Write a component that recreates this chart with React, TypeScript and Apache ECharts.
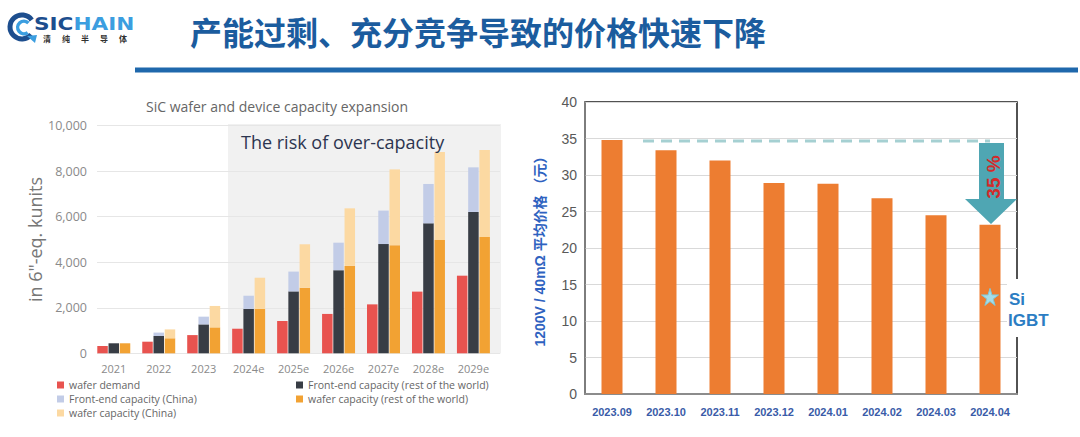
import React, { useEffect, useRef } from "react";
import * as echarts from "echarts";

// ---- Left chart data (in 6"-eq. kunits) ----
const years = ["2021", "2022", "2023", "2024e", "2025e", "2026e", "2027e", "2028e", "2029e"];
const waferDemand = [320, 510, 800, 1080, 1420, 1730, 2150, 2710, 3410];
const frontEndRow = [440, 760, 1270, 1950, 2720, 3650, 4800, 5710, 6210];
const frontEndChina = [0, 150, 340, 580, 870, 1210, 1470, 1730, 1960];
const waferCapRow = [440, 660, 1140, 1950, 2880, 3840, 4750, 4980, 5110];
const waferCapChina = [0, 390, 940, 1370, 1910, 2530, 3330, 3860, 3820];
const leftTicks = { min: 0, max: 10000, interval: 2000 };

// ---- Right chart data (元) ----
const months = ["2023.09", "2023.10", "2023.11", "2023.12", "2024.01", "2024.02", "2024.03", "2024.04"];
const avgPrice = [34.8, 33.4, 32.0, 28.9, 28.8, 26.8, 24.5, 23.2];
const siIgbtPoint = [[7, 13.3]];
const rightTicks = { min: 0, max: 40, interval: 5 };

const SERIES_NAMES = {
  demand: "wafer demand",
  feRow: "Front-end capacity (rest of the world)",
  feChina: "Front-end capacity (China)",
  wRow: "wafer capacity (rest of the world)",
  wChina: "wafer capacity (China)",
};

const LF = "'Open Sans', 'Noto Sans', sans-serif";
const RF = "'Liberation Sans Narrow', 'Liberation Sans', 'Noto Sans CJK SC', sans-serif";

const STAR = "path://M50,0 L61,35 L98,35 L68,57 L79,91 L50,70 L21,91 L32,57 L2,35 L39,35 Z";

function txt(x: number, y: number, text: string, font: string, fill: string, align = "left", extra: any = {}) {
  return {
    type: "text",
    x,
    y,
    z: 100,
    ...extra,
    style: {
      text,
      font,
      fill,
      align,
      verticalAlign: "middle",
      textAlign: align,
      textVerticalAlign: "middle",
    },
  };
}

export default function App() {
  const ref = useRef<HTMLDivElement>(null);

  useEffect(() => {
    if (!ref.current) return;
    const chart = echarts.init(ref.current, undefined, { renderer: "svg" });

    const subChars = ["清", "纯", "半", "导", "体"];
    const legendText = { fontSize: 10.5, color: "#666666", fontFamily: LF, lineHeight: 13 };

    const option: any = {
      animation: false,
      backgroundColor: "#ffffff",
      grid: [
        // 0: left chart gridlines & y labels
        { left: 97, top: 125.7, width: 403, height: 227.6 },
        // 1: left chart bars
        { left: 91.3, top: 125.7, width: 404.6, height: 227.6 },
        // 2: right chart
        {
          left: 585,
          top: 102,
          width: 432,
          height: 292,
          show: true,
          borderColor: "#1a1a1a",
          borderWidth: 1.5,
          backgroundColor: "transparent",
        },
      ],
      xAxis: [
        { gridIndex: 0, type: "category", data: years, show: false },
        {
          gridIndex: 1,
          type: "category",
          data: years,
          axisLine: { show: false },
          axisTick: { show: false },
          axisLabel: { fontSize: 11, color: "#8a8a8a", fontFamily: LF, margin: 10 },
        },
        {
          gridIndex: 2,
          type: "category",
          data: months,
          axisLine: { show: true, lineStyle: { color: "#8c8c8c", width: 2 } },
          axisTick: { show: false },
          axisLabel: { fontSize: 11, fontWeight: "bold", color: "#3a5ba8", fontFamily: RF, margin: 12 },
        },
      ],
      yAxis: [
        {
          gridIndex: 0,
          type: "value",
          min: leftTicks.min,
          max: leftTicks.max,
          interval: leftTicks.interval,
          axisLine: { show: false },
          axisTick: { show: false },
          splitLine: { lineStyle: { color: "#e6e6e6", width: 1 } },
          axisLabel: {
            fontSize: 12.5,
            color: "#8a8a8a",
            fontFamily: LF,
            margin: 10,
            formatter: (v: number) => v.toLocaleString("en-US"),
          },
          name: 'in 6"-eq. kunits',
          nameLocation: "middle",
          nameGap: 50,
          nameRotate: 90,
          nameTextStyle: { fontSize: 18, color: "#777777", fontFamily: LF },
        },
        {
          gridIndex: 1,
          type: "value",
          min: leftTicks.min,
          max: leftTicks.max,
          interval: leftTicks.interval,
          show: false,
          splitLine: { show: false },
        },
        {
          gridIndex: 2,
          type: "value",
          min: rightTicks.min,
          max: rightTicks.max,
          interval: rightTicks.interval,
          axisLine: { show: true, lineStyle: { color: "#8c8c8c", width: 1.5 } },
          axisTick: { show: false },
          splitLine: { lineStyle: { color: "#d9d9d9", width: 1 } },
          axisLabel: { fontSize: 14, color: "#595959", fontFamily: RF, margin: 8 },
          name: "1200V / 40mΩ 平均价格 （元）",
          nameLocation: "middle",
          nameGap: 38,
          nameRotate: 90,
          nameTextStyle: {
            fontSize: 14,
            fontWeight: "bold",
            color: "#2e62c0",
            fontFamily: "'Liberation Sans', 'Noto Sans CJK SC', sans-serif",
          },
        },
      ],
      legend: [
        {
          left: 57,
          top: 378.5,
          orient: "vertical",
          padding: 0,
          itemGap: 1,
          itemWidth: 7,
          itemHeight: 7,
          icon: "rect",
          selectedMode: false,
          textStyle: legendText,
          data: [SERIES_NAMES.demand, SERIES_NAMES.feChina, SERIES_NAMES.wChina],
        },
        {
          left: 296,
          top: 378.5,
          orient: "vertical",
          padding: 0,
          itemGap: 1,
          itemWidth: 7,
          itemHeight: 7,
          icon: "rect",
          selectedMode: false,
          textStyle: legendText,
          data: [SERIES_NAMES.feRow, SERIES_NAMES.wRow],
        },
      ],
      series: [
        {
          name: SERIES_NAMES.demand,
          type: "bar",
          xAxisIndex: 1,
          yAxisIndex: 1,
          barWidth: 10.5,
          barGap: "7%",
          itemStyle: { color: "#e8534f" },
          data: waferDemand,
        },
        {
          name: SERIES_NAMES.feRow,
          type: "bar",
          stack: "fe",
          xAxisIndex: 1,
          yAxisIndex: 1,
          barWidth: 10.5,
          barGap: "7%",
          itemStyle: { color: "#383d45" },
          data: frontEndRow,
        },
        {
          name: SERIES_NAMES.feChina,
          type: "bar",
          stack: "fe",
          xAxisIndex: 1,
          yAxisIndex: 1,
          barWidth: 10.5,
          barGap: "7%",
          itemStyle: { color: "#c2cce7" },
          data: frontEndChina,
        },
        {
          name: SERIES_NAMES.wRow,
          type: "bar",
          stack: "w",
          xAxisIndex: 1,
          yAxisIndex: 1,
          barWidth: 10.5,
          barGap: "7%",
          itemStyle: { color: "#f2a233" },
          data: waferCapRow,
        },
        {
          name: SERIES_NAMES.wChina,
          type: "bar",
          stack: "w",
          xAxisIndex: 1,
          yAxisIndex: 1,
          barWidth: 10.5,
          barGap: "7%",
          itemStyle: { color: "#fcd9a2" },
          data: waferCapChina,
        },
        {
          name: "avg price",
          type: "bar",
          xAxisIndex: 2,
          yAxisIndex: 2,
          barWidth: 21,
          itemStyle: { color: "#ed7d31" },
          data: avgPrice,
        },
        {
          name: "Si IGBT",
          type: "scatter",
          xAxisIndex: 2,
          yAxisIndex: 2,
          symbol: STAR,
          symbolSize: 17,
          z: 10,
          itemStyle: { color: "#a6dde8", borderColor: "#7fc9d8", borderWidth: 1, opacity: 1 },
          data: siIgbtPoint,
        },
      ],
      graphic: [
        // left chart shaded "over-capacity" region
        {
          type: "rect",
          z: -10,
          shape: { x: 228, y: 124, width: 273, height: 229.5 },
          style: { fill: "#f1f1f1" },
        },
        // logo
        {
          type: "arc",
          z: 100,
          shape: { cx: 22, cy: 27, r: 12, startAngle: Math.PI * 0.22, endAngle: Math.PI * 1.8, clockwise: true },
          style: { stroke: "#1d4e8e", lineWidth: 5, fill: "none" },
        },
        {
          type: "arc",
          z: 100,
          shape: { cx: 24, cy: 27.5, r: 6.3, startAngle: Math.PI * 0.3, endAngle: Math.PI * 1.75, clockwise: true },
          style: { stroke: "#3b9ee0", lineWidth: 3.5, fill: "none" },
        },
        {
          type: "polygon",
          z: 100,
          shape: { points: [[27, 36], [37, 35], [35, 43]] },
          style: { fill: "#3b9ee0" },
        },
        {
          type: "text",
          x: 34,
          y: 24,
          z: 100,
          scaleX: 1.2,
          style: {
            text: "{a|SIC}{b|HAIN}",
            font: "bold 18px 'DejaVu Sans'",
            verticalAlign: "middle",
            textVerticalAlign: "middle",
            rich: {
              a: { fill: "#1d4e8e", color: "#1d4e8e", font: "bold 18px 'DejaVu Sans'" },
              b: { fill: "#3b9ee0", color: "#3b9ee0", font: "bold 18px 'DejaVu Sans'" },
            },
          },
        },
        ...subChars.map((c, i) => txt(47 + i * 19, 38.5, c, "bold 8px 'Noto Sans CJK SC'", "#333333", "center")),
        // slide title
        txt(190, 31, "产能过剩、充分竞争导致的价格快速下降", "bold 32px 'Noto Sans CJK SC'", "#1b5c9e"),
        {
          type: "rect",
          z: 100,
          shape: { x: 135, y: 67.5, width: 943, height: 5 },
          style: { fill: "#1f68ac" },
        },
        // left chart texts
        txt(277, 106, "SiC wafer and device capacity expansion", `14px ${LF}`, "#666666", "center"),
        txt(241, 142, "The risk of over-capacity", `18px ${LF}`, "#2c3550"),
        // right chart annotations
        {
          type: "line",
          z: 100,
          shape: { x1: 643, y1: 141, x2: 990, y2: 141 },
          style: { stroke: "#a5d0d2", lineWidth: 3, lineDash: [11, 7] },
        },
        {
          type: "polygon",
          z: 101,
          shape: {
            points: [
              [979, 143],
              [1004, 143],
              [1004, 199],
              [1017, 199],
              [991, 224],
              [965, 199],
              [979, 199],
            ],
          },
          style: { fill: "#4fa6b3" },
        },
        txt(993, 177, "35 %", `bold 19px 'Liberation Sans', sans-serif`, "#d42a2a", "center", {
          rotation: Math.PI / 2,
          z: 102,
        }),
        {
          type: "rect",
          z: 100,
          shape: { x: 1007, y: 279, width: 18, height: 58 },
          style: { fill: "#ffffff" },
        },
        txt(1009, 299, "Si", `bold 17px 'Liberation Sans', sans-serif`, "#2b7dc3"),
        txt(1008, 320, "IGBT", `bold 17px 'Liberation Sans', sans-serif`, "#2b7dc3"),
      ],
    };

    chart.setOption(option);
    return () => chart.dispose();
  }, []);

  return (
    <div
      ref={ref}
      style={{ position: "fixed", left: 0, top: 0, width: 1080, height: 437, background: "#fff" }}
    />
  );
}
